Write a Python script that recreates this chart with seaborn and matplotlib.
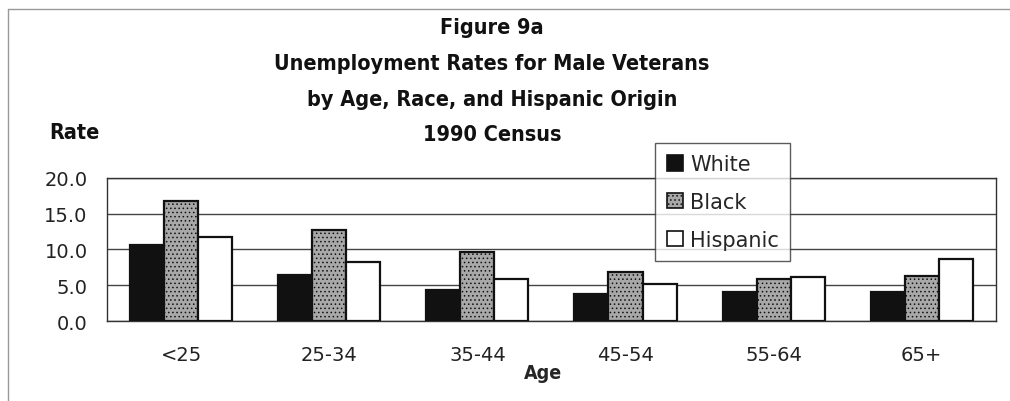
import matplotlib
matplotlib.use("Agg")
import matplotlib.pyplot as plt
import matplotlib.patches as mpatches
import seaborn as sns
import pandas as pd

# Unemployment rates (%) by age group
ages = ["<25", "25-34", "35-44", "45-54", "55-64", "65+"]
white = [10.6, 6.4, 4.3, 3.8, 4.1, 4.1]
black = [16.8, 12.7, 9.6, 6.8, 5.9, 6.3]
hispanic = [11.7, 8.2, 5.9, 5.2, 6.1, 8.6]
groups = ["White", "Black", "Hispanic"]
colors = ["#111111", "#a8a8a8", "#ffffff"]
hatches = ["", "....", ""]

df = pd.DataFrame({
    "Age": ages * 3,
    "Rate": white + black + hispanic,
    "Group": [g for g in groups for _ in ages],
})

sns.set_theme(style="white")
plt.rcParams["font.family"] = ["DejaVu Sans"]
plt.rcParams["hatch.color"] = "#555555"
plt.rcParams["hatch.linewidth"] = 0.6

fig = plt.figure(figsize=(10.1, 4.02), dpi=100)
ax = fig.add_axes([0.106, 0.199, 0.880, 0.356])

sns.barplot(data=df, x="Age", y="Rate", hue="Group", order=ages, hue_order=groups,
            palette=colors, width=0.69, gap=0,
            edgecolor="#111111", linewidth=1.6, ax=ax, legend=False, zorder=3)

for cont, h in zip(ax.containers, hatches):
    for patch in cont.patches:
        patch.set_hatch(h)

ax.set_ylim(0, 20)
ax.set_xlim(-0.5, len(ages) - 0.5)
ticks = [0, 5, 10, 15, 20]
ax.set_yticks(ticks)
ax.set_yticklabels([f"{v:.1f}" for v in ticks], fontsize=14, color="#222222")
ax.yaxis.grid(True, color="#444444", linewidth=1.0, zorder=0)
ax.set_axisbelow(True)
ax.tick_params(axis="x", labelsize=14, colors="#222222", pad=17, length=0)
ax.tick_params(axis="y", pad=14, length=0)

ax.set_xlabel("Age", fontsize=14, fontweight="bold", fontstretch="condensed")
ax.xaxis.set_label_coords(0.49, -0.29)
ax.set_ylabel("")
for s in ax.spines.values():
    s.set_color("#333333")
    s.set_linewidth(1.0)

handles = [mpatches.Patch(facecolor=c, edgecolor="#111111", hatch=h, linewidth=1.2)
           for c, h in zip(colors, hatches)]
leg = ax.legend(handles, groups, loc="upper left", bbox_to_anchor=(0.617, 1.245),
                borderaxespad=0, frameon=True, fancybox=False, fontsize=15,
                handlelength=0.75, handleheight=0.75, handletextpad=0.35,
                labelspacing=0.85, borderpad=0.55, edgecolor="#333333")
leg.get_frame().set_linewidth(1.0)
leg.set_zorder(5)

tfont = dict(fontsize=15.5, fontweight="bold", fontstretch="condensed",
             ha="center", va="center", color="#111111")
fig.text(0.487, 0.930, "Figure 9a", **tfont)
fig.text(0.487, 0.840, "Unemployment Rates for Male Veterans", **tfont)
fig.text(0.487, 0.750, "by Age, Race, and Hispanic Origin", **tfont)
fig.text(0.487, 0.665, "1990 Census", **tfont)
fig.text(0.074, 0.668, "Rate", **tfont)

# Outer frame around the figure
fig.add_artist(plt.Line2D([0.008, 1.0], [0.975, 0.975], color="#999999", linewidth=1.0,
                          transform=fig.transFigure))
fig.add_artist(plt.Line2D([0.008, 0.008], [0.0, 0.975], color="#999999", linewidth=1.0,
                          transform=fig.transFigure))

fig.savefig("out.png", dpi=100, facecolor="white")
